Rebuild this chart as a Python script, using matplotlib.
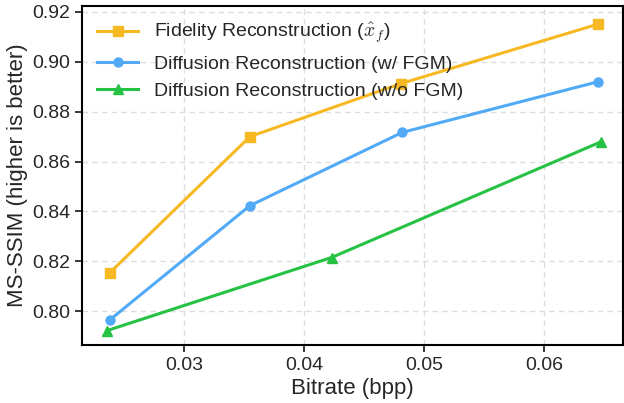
import matplotlib
matplotlib.use('Agg')
import matplotlib.pyplot as plt

plt.rcParams['font.family'] = ['Liberation Sans', 'DejaVu Sans']
plt.rcParams['mathtext.fontset'] = 'cm'

############### DATA ###############
fid_bpp = [0.0238, 0.0355, 0.0481, 0.0645]
fid_ssim = [0.8153, 0.8700, 0.8913, 0.9151]

dif_fgm_bpp = [0.0238, 0.0355, 0.0482, 0.0645]
dif_fgm_ssim = [0.7964, 0.8423, 0.8717, 0.8920]

dif_nofgm_bpp = [0.0236, 0.0423, 0.0648]
dif_nofgm_ssim = [0.7922, 0.8215, 0.8680]

labels = ['Fidelity Reconstruction ($\\hat{x}_f$)',
          'Diffusion Reconstruction (w/ FGM)',
          'Diffusion Reconstruction (w/o FGM)']

############### PLOT ###############
fig = plt.figure(figsize=(6.24, 4.03), dpi=100)
ax = fig.add_axes([0.1314, 0.1439, 0.8670, 0.8412])

ax.plot(fid_bpp, fid_ssim, color='#F7B923', marker='s', markersize=6.5,
        linewidth=2.2, label=labels[0])
ax.plot(dif_fgm_bpp, dif_fgm_ssim, color='#52AAF7', marker='o', markersize=6.5,
        linewidth=2.2, label=labels[1])
ax.plot(dif_nofgm_bpp, dif_nofgm_ssim, color='#25C244', marker='^', markersize=7,
        linewidth=2.2, label=labels[2])

ax.set_xlim(0.0215, 0.0666)
ax.set_ylim(0.7864, 0.9224)
ax.set_xticks([0.03, 0.04, 0.05, 0.06])
ax.set_yticks([0.80, 0.82, 0.84, 0.86, 0.88, 0.90, 0.92])
ax.set_yticklabels(['%.2f' % v for v in ax.get_yticks()])

ax.grid(True, linestyle=(0, (4, 3)), color='#DDDDDD', linewidth=1)
ax.set_axisbelow(True)
for s in ax.spines.values():
    s.set_linewidth(1.5)
    s.set_color('black')
ax.tick_params(axis='both', labelsize=14, length=5, width=1.3,
               colors='#262626', direction='out')

ax.set_xlabel('Bitrate (bpp)', fontsize=16, color='#262626', labelpad=3)
ax.set_ylabel('MS-SSIM (higher is better)', fontsize=16, color='#262626',
              labelpad=3)

ax.legend(loc='upper left', frameon=False, fontsize=14, handlelength=2.1,
          handletextpad=0.8, labelspacing=0.47, borderaxespad=0.38,
          labelcolor='#262626')

fig.savefig('out.png', dpi=100)
